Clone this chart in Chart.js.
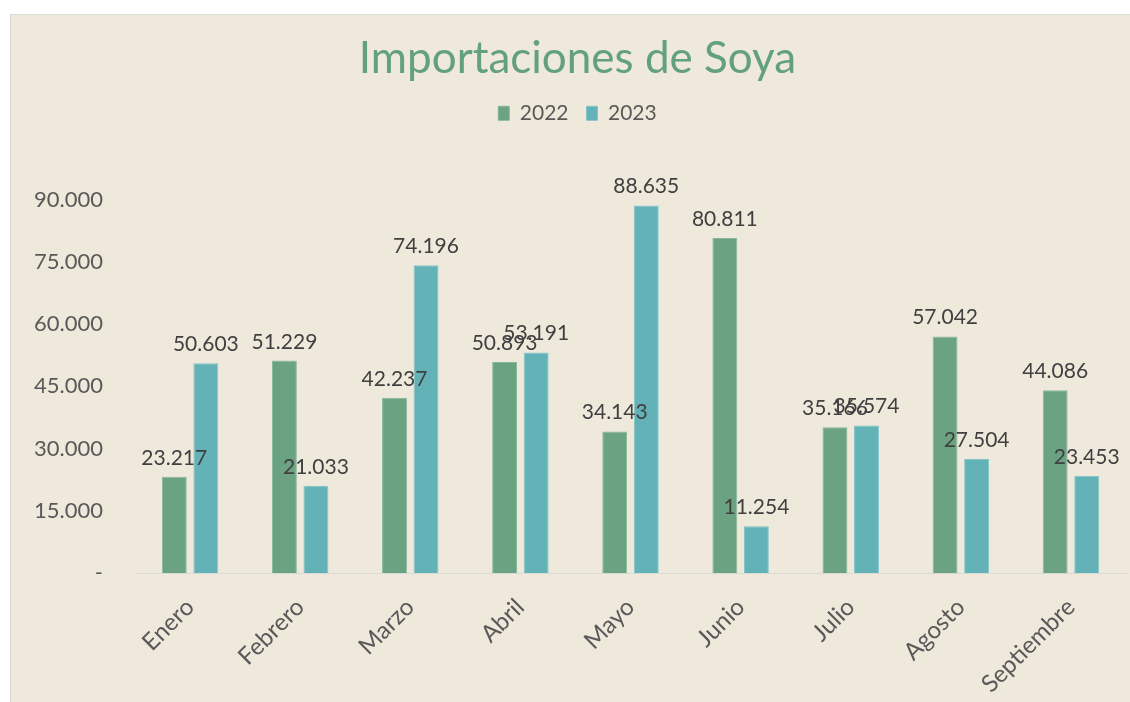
<!DOCTYPE html>
<html>
<head>
<meta charset="utf-8">
<script src="https://cdn.jsdelivr.net/npm/chart.js@4/dist/chart.umd.min.js"></script>
<style>
  body { margin: 0; background: #ffffff; overflow: hidden; }
  #panel {
    position: absolute; left: 10px; top: 14px; width: 1134px; height: 688px;
    background: #efe9dc; border-left: 1px solid #d9d9d9; border-top: 1px solid #d9d9d9;
  }
</style>
</head>
<body>
<div id="panel"><canvas id="grafico" width="1133" height="687"></canvas></div>
<script>
const meses = ["Enero", "Febrero", "Marzo", "Abril", "Mayo", "Junio", "Julio", "Agosto", "Septiembre"];
const datos2022 = [23217, 51229, 42237, 50893, 34143, 80811, 35166, 57042, 44086];
const datos2023 = [50603, 21033, 74196, 53191, 88635, 11254, 35574, 27504, 23453];
const ticksY = [0, 15000, 30000, 45000, 60000, 75000, 90000];

const fuente = "Lato, 'Open Sans', sans-serif";
const espacioLeyenda = 66; // aire entre la leyenda y el área del gráfico

function formato(v) {
  if (v === 0) return "-";
  return String(v).replace(/\B(?=(\d{3})+(?!\d))/g, ".");
}

// etiquetas encima de cada barra
const etiquetas = {
  id: "etiquetas",
  afterDatasetsDraw(chart) {
    const ctx = chart.ctx;
    ctx.save();
    ctx.font = "21px " + fuente;
    ctx.fillStyle = "#404040";
    ctx.textAlign = "center";
    ctx.textBaseline = "alphabetic";
    chart.data.datasets.forEach((ds, i) => {
      chart.getDatasetMeta(i).data.forEach((bar, j) => {
        ctx.fillText(formato(ds.data[j]), bar.x, bar.y - 12);
      });
    });
    ctx.restore();
  }
};

// la leyenda necesita más alto para dejar el hueco de abajo
const alturaLeyenda = {
  id: "alturaLeyenda",
  beforeLayout(chart) {
    const lg = chart.legend;
    if (lg && !lg._parche) {
      const fit = lg.fit;
      lg.fit = function () { fit.call(this); this.height += espacioLeyenda; };
      lg._parche = true;
    }
  }
};

new Chart(document.getElementById("grafico").getContext("2d"), {
  type: "bar",
  data: {
    labels: meses,
    datasets: [
      {
        label: "2022",
        data: datos2022,
        backgroundColor: "#6aa282",
        borderColor: "#86b79b",
        borderWidth: 1
      },
      {
        label: "2023",
        data: datos2023,
        backgroundColor: "#63b2b8",
        borderColor: "#82c3c8",
        borderWidth: 1
      }
    ]
  },
  options: {
    responsive: false,
    animation: false,
    categoryPercentage: 0.573,
    barPercentage: 0.79,
    layout: { padding: { left: 18, right: 18, top: 0, bottom: 0 } },
    plugins: {
      title: {
        display: true,
        text: "Importaciones de Soya",
        color: "#62a07f",
        font: { family: fuente, size: 44, weight: "normal" },
        padding: { top: 17, bottom: 0 }
      },
      legend: {
        position: "top",
        labels: {
          color: "#595959",
          font: { family: fuente, size: 21 },
          boxWidth: 11,
          boxHeight: 14,
          padding: 18
        }
      },
      tooltip: { enabled: false }
    },
    scales: {
      x: {
        grid: { display: false },
        border: { display: true, color: "#d9d9d9", width: 1 },
        ticks: {
          color: "#595959",
          font: { family: fuente, size: 24 },
          maxRotation: 45,
          minRotation: 45,
          padding: 12
        },
        afterFit(scale) { scale.height = 129; }
      },
      y: {
        min: 0,
        max: 90000,
        afterBuildTicks(scale) { scale.ticks = ticksY.map(v => ({ value: v })); },
        grid: { display: false, drawTicks: false },
        border: { display: false },
        ticks: {
          color: "#595959",
          font: { family: fuente, size: 22 },
          padding: 32,
          callback: v => formato(v)
        },
        afterFit(scale) { scale.width = 106; }
      }
    }
  },
  plugins: [etiquetas, alturaLeyenda]
});
</script>
</body>
</html>
